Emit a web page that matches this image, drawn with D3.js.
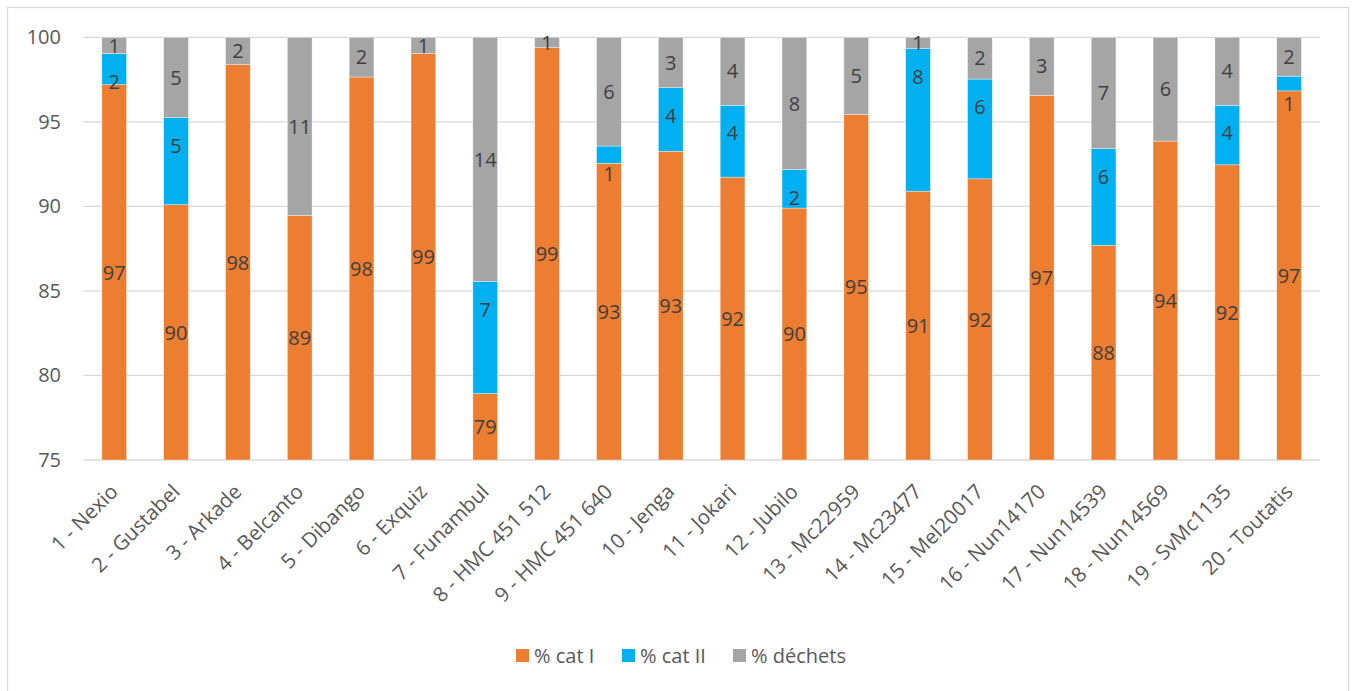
<!DOCTYPE html>
<html>
<head>
<meta charset="utf-8">
<script src="https://cdn.jsdelivr.net/npm/d3@7"></script>
<style>
  html, body { margin: 0; padding: 0; background: #fff; }
  svg { display: block; font-family: "Open Sans", sans-serif; }
</style>
</head>
<body>
<svg id="chart" width="1352" height="691"></svg>
<script>
const categories = ["1 - Nexio", "2 - Gustabel", "3 - Arkade", "4 - Belcanto", "5 - Dibango", "6 - Exquiz",
  "7 - Funambul", "8 - HMC 451 512", "9 - HMC 451 640", "10 - Jenga", "11 - Jokari", "12 - Jubilo",
  "13 - Mc22959", "14 - Mc23477", "15 - Mel20017", "16 - Nun14170", "17 - Nun14539", "18 - Nun14569",
  "19 - SvMc1135", "20 - Toutatis"];
const catI    = [97.2, 90.1, 98.38, 89.46, 97.65, 99.03, 78.93, 99.39, 92.55, 93.26, 91.73, 89.9, 95.43, 90.9, 91.63, 96.57, 87.7, 93.86, 92.46, 96.83];
const catII   = [1.83, 5.15, null, null, null, null, 6.62, null, 1.02, 3.76, 4.25, 2.28, null, 8.43, 5.9, null, 5.72, null, 3.52, 0.87];
const dechets = [0.97, 4.75, 1.62, 10.54, 2.35, 0.97, 14.45, 0.61, 6.43, 2.98, 4.02, 7.82, 4.57, 0.67, 2.47, 3.43, 6.58, 6.14, 4.02, 2.3];
const seriesNames = ["% cat I", "% cat II", "% déchets"];
const seriesColors = ["#ED7D31", "#00B0F0", "#A5A5A5"];
const yTicks = [75, 80, 85, 90, 95, 100];

const svg = d3.select("#chart");

// outer border
svg.append("rect").attr("x", 7.5).attr("y", 7.5).attr("width", 1341).attr("height", 700)
  .attr("fill", "#fff").attr("stroke", "#d9d9d9").attr("stroke-width", 1.3);

const plot = { left: 83.3, right: 1320, top: 37.3, bottom: 460 };

const x = d3.scaleBand().domain(categories).range([plot.left, plot.right])
  .paddingInner(0.6).paddingOuter(0.3);
const y = d3.scaleLinear().domain([75, 100]).range([plot.bottom, plot.top]);

// gridlines
svg.append("g").selectAll("line").data(yTicks).join("line")
  .attr("x1", plot.left).attr("x2", plot.right)
  .attr("y1", d => y(d)).attr("y2", d => y(d))
  .attr("stroke", "#d9d9d9").attr("stroke-width", 1.3);

// y axis labels
const yAxis = d3.axisLeft(y).tickValues(yTicks).tickSize(0).tickPadding(0);
const yg = svg.append("g").attr("transform", `translate(${61},0)`).call(yAxis);
yg.select(".domain").remove();
yg.selectAll("text").attr("fill", "#595959").style("font-size", "20px")
  .style("font-family", "'Open Sans', sans-serif");

// stacked data
const rows = categories.map((c, i) => ({ cat: c, s0: catI[i], s1: catII[i] || 0, s2: dechets[i],
  raw: [catI[i], catII[i], dechets[i]] }));
const stack = d3.stack().keys(["s0", "s1", "s2"]);
const stacked = stack(rows);

const barsG = svg.append("g");
stacked.forEach((layer, si) => {
  barsG.append("g").selectAll("rect").data(layer).join("rect")
    .attr("x", d => x(d.data.cat))
    .attr("width", x.bandwidth())
    .attr("y", d => y(Math.min(100, d[1])))
    .attr("height", d => Math.max(0, y(Math.max(75, d[0])) - y(Math.min(100, d[1]))))
    .attr("fill", seriesColors[si])
    .attr("stroke", "#fff").attr("stroke-width", 0.6).attr("stroke-opacity", 0.6);
});

// data labels
const labG = svg.append("g").style("font-size", "20px").attr("fill", "#404040")
  .attr("text-anchor", "middle");
stacked.forEach((layer, si) => {
  labG.append("g").selectAll("text")
    .data(layer.filter(d => d.data.raw[si] != null))
    .join("text")
    .attr("x", d => x(d.data.cat) + x.bandwidth() / 2)
    .attr("y", d => {
      const top = y(Math.min(100, d[1]));
      const bot = y(Math.max(75, d[0]));
      if (si === 1) return top + 28;
      return (top + bot) / 2;
    })
    .attr("dy", "0.36em")
    .text(d => d3.format(".0f")(d.data.raw[si]));
});

// x axis labels (rotated)
const xg = svg.append("g");
xg.selectAll("text").data(categories).join("text")
  .attr("transform", d => `translate(${x(d) + x.bandwidth() / 2 + 5},${493}) rotate(-45)`)
  .attr("text-anchor", "end")
  .attr("fill", "#595959").style("font-size", "20.5px")
  .text(d => d);

// legend
const legend = svg.append("g").attr("transform", "translate(0,656)");
const legX = [516, 622, 733];
seriesNames.forEach((n, i) => {
  const g = legend.append("g").attr("transform", `translate(${legX[i]},0)`);
  g.append("rect").attr("x", 0).attr("y", -7).attr("width", 13).attr("height", 13).attr("fill", seriesColors[i]);
  g.append("text").attr("x", 18).attr("y", 0).attr("dy", "0.35em")
    .attr("fill", "#595959").style("font-size", "20px").text(n);
});
</script>
</body>
</html>
